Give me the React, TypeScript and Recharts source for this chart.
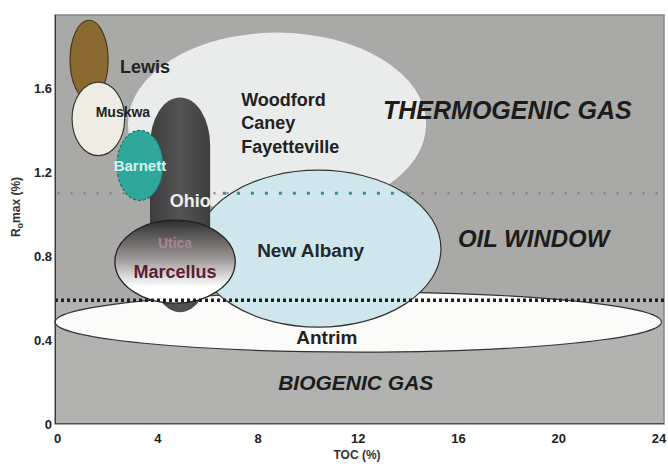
import { ComposedChart, XAxis, YAxis, ReferenceArea, Scatter } from "recharts";

const xTicks = [0, 4, 8, 12, 16, 20, 24];
const yTicks = [0, 0.4, 0.8, 1.2, 1.6];

// shale fields: centre and half-axes in TOC (%) / Ro (%) units, bottom to top
const shales = [
  { name: "Antrim", cx: 12, cy: 0.486, rx: 12.1, ry: 0.143 },
  { name: "Woodford", cx: 8.76, cy: 1.43, rx: 5.95, ry: 0.436 },
  { name: "New Albany", cx: 10.4, cy: 0.836, rx: 4.9, ry: 0.374 },
  { name: "Ohio", cx: 4.89, cy: 1.045, rx: 1.2, ry: 0.512 },
  { name: "Lewis", cx: 1.26, cy: 1.735, rx: 0.76, ry: 0.19 },
  { name: "Muskwa", cx: 1.63, cy: 1.455, rx: 1.05, ry: 0.175 },
  { name: "Barnett", cx: 3.29, cy: 1.233, rx: 0.92, ry: 0.167 },
  { name: "Marcellus", cx: 4.69, cy: 0.774, rx: 2.4, ry: 0.198 },
];

// window boundaries (Ro %)
const gasWindowTop = 1.1;
const oilWindowBase = 0.59;
const tealSegment = [6.6, 14.2];

const labels = [
  { text: "THERMOGENIC GAS", x: 17.95, y: 1.495 },
  { text: "OIL WINDOW", x: 19.0, y: 0.886 },
  { text: "BIOGENIC GAS", x: 11.9, y: 0.2 },
  { text: "Woodford", x: 7.33, y: 1.543 },
  { text: "Caney", x: 7.33, y: 1.433 },
  { text: "Fayetteville", x: 7.33, y: 1.319 },
  { text: "Lewis", x: 3.49, y: 1.7 },
  { text: "Muskwa", x: 2.61, y: 1.486 },
  { text: "Barnett", x: 3.29, y: 1.233 },
  { text: "Ohio", x: 5.3, y: 1.062 },
  { text: "Utica", x: 4.69, y: 0.862 },
  { text: "Marcellus", x: 4.69, y: 0.724 },
  { text: "New Albany", x: 10.1, y: 0.829 },
  { text: "Antrim", x: 10.75, y: 0.414 },
];

const shaleStyle: Record<string, any> = {
  Antrim: { fill: "#fbfbfa", stroke: "#333", strokeWidth: 1.2 },
  Woodford: { fill: "#e9ecea", stroke: "none" },
  "New Albany": { fill: "#cfe7ec", stroke: "#333", strokeWidth: 1.2 },
  Ohio: { fill: "url(#ohioGrad)", stroke: "none" },
  Lewis: { fill: "#8a6a30", stroke: "#4a3a1c", strokeWidth: 1.2 },
  Muskwa: { fill: "#efece4", stroke: "#3a3a30", strokeWidth: 1.2 },
  Barnett: { fill: "#2fa79b", stroke: "#1f6e68", strokeWidth: 1.2, strokeDasharray: "3 2" },
  Marcellus: { fill: "url(#marcGrad)", stroke: "#222", strokeWidth: 1.3 },
};

const labelStyle: Record<string, any> = {
  "THERMOGENIC GAS": { size: 25, italic: true, anchor: "middle", fill: "#1c1c1c" },
  "OIL WINDOW": { size: 24, italic: true, anchor: "middle", fill: "#1c1c1c" },
  "BIOGENIC GAS": { size: 21, italic: true, anchor: "middle", fill: "#1c1c1c" },
  Woodford: { size: 18, anchor: "start", fill: "#222" },
  Caney: { size: 18, anchor: "start", fill: "#222" },
  Fayetteville: { size: 18, anchor: "start", fill: "#222" },
  Lewis: { size: 18, anchor: "middle", fill: "#222" },
  Muskwa: { size: 14, anchor: "middle", fill: "#222" },
  Barnett: { size: 15, anchor: "middle", fill: "#d9f3f0" },
  Ohio: { size: 18, anchor: "middle", fill: "#eeeeee" },
  Utica: { size: 14, anchor: "middle", fill: "#a98592" },
  Marcellus: { size: 18, anchor: "middle", fill: "#5a1f36" },
  "New Albany": { size: 19, anchor: "middle", fill: "#22282c" },
  Antrim: { size: 19, anchor: "middle", fill: "#222" },
};

const font = "'Liberation Sans', Arial, sans-serif";

const ShaleShape = (name: string) => (p: any) => {
  const s = shaleStyle[name];
  if (name === "Ohio") {
    return (
      <rect x={p.x} y={p.y} width={p.width} height={p.height}
        rx={p.width / 2} ry={48} {...s} />
    );
  }
  return (
    <ellipse cx={p.x + p.width / 2} cy={p.y + p.height / 2}
      rx={p.width / 2} ry={p.height / 2} {...s} />
  );
};

const DotLine = (stroke: string, w: number, dash: string) => (p: any) => (
  <line x1={p.x} x2={p.x + p.width} y1={p.y + p.height / 2} y2={p.y + p.height / 2}
    stroke={stroke} strokeWidth={w} strokeDasharray={dash} />
);

const LabelShape = (p: any) => {
  const s = labelStyle[p.payload.text];
  return (
    <text x={p.cx} y={p.cy} textAnchor={s.anchor} dominantBaseline="central"
      fontSize={s.size} fontWeight="bold" fontStyle={s.italic ? "italic" : "normal"}
      fontFamily={font} fill={s.fill}>
      {p.payload.text}
    </text>
  );
};

const YLabel = () => (
  <text transform="translate(20,207) rotate(-90)" textAnchor="middle"
    fontSize={12} fontWeight="bold" fontFamily={font} fill="#333">
    R<tspan fontSize={9} dy={3}>o</tspan><tspan dy={-3}>max (%)</tspan>
  </text>
);

const XLabel = () => (
  <text x={357} y={459} textAnchor="middle"
    fontSize={12} fontWeight="bold" fontFamily={font} fill="#333">
    TOC (%)
  </text>
);

const tickStyle = { fill: "#222", fontSize: 13, fontWeight: "bold", fontFamily: font };

export default function App() {
  return (
    <div style={{ position: "absolute", left: 0, top: 0, background: "#fff" }}>
      <ComposedChart width={668} height={466} data={labels}
        margin={{ top: 15, right: 4, bottom: 12, left: 15 }}>
        <defs>
          <linearGradient id="marcGrad" x1="0" y1="0" x2="0" y2="1">
            <stop offset="0%" stopColor="#2e2e2e" />
            <stop offset="45%" stopColor="#9a9393" />
            <stop offset="80%" stopColor="#ffffff" />
          </linearGradient>
          <linearGradient id="ohioGrad" x1="0" y1="0" x2="1" y2="0">
            <stop offset="0%" stopColor="#3e3d3d" />
            <stop offset="50%" stopColor="#555353" />
            <stop offset="100%" stopColor="#3f3e3e" />
          </linearGradient>
        </defs>
        <XAxis dataKey="x" type="number" domain={[-0.1, 24.2]} ticks={xTicks}
          allowDataOverflow height={30} tickLine={false} axisLine={false}
          tickSize={0} tick={tickStyle} tickMargin={10} label={<XLabel />} />
        <YAxis dataKey="y" type="number" domain={[0, 1.95]} ticks={yTicks}
          allowDataOverflow width={40} tickLine={false} axisLine={false}
          tickSize={0} tick={tickStyle} tickMargin={3}
          tickFormatter={(v: number) => (v === 0 ? "0" : v.toFixed(1))}
          label={<YLabel />} />
        {/* plot background: thermogenic/oil upper field, biogenic lower field */}
        <ReferenceArea x1={-0.1} x2={24.2} y1={oilWindowBase} y2={1.95}
          fill="#a9a9a8" fillOpacity={1} stroke="none" ifOverflow="visible" />
        <ReferenceArea x1={-0.1} x2={24.2} y1={0} y2={oilWindowBase}
          fill="#b2b3b1" fillOpacity={1} stroke="none" ifOverflow="visible" />
        <ReferenceArea x1={-0.1} x2={24.2} y1={0} y2={1.95}
          fill="none" stroke="#858585" strokeWidth={1.5} ifOverflow="visible" />
        <ReferenceArea x1={-0.1} x2={24.2} y1={0} y2={0.004}
          fill="#3a3a3a" fillOpacity={1} stroke="none" ifOverflow="visible" />
        {shales.slice(0, 2).map((d) => (
          <ReferenceArea key={d.name} x1={d.cx - d.rx} x2={d.cx + d.rx}
            y1={d.cy - d.ry} y2={d.cy + d.ry} ifOverflow="visible" shape={ShaleShape(d.name)} />
        ))}
        <ReferenceArea x1={0} x2={24} y1={gasWindowTop - 0.003} y2={gasWindowTop + 0.003}
          ifOverflow="visible" shape={DotLine("#7c7c7c", 2, "2 11")} />
        {shales.slice(2, 3).map((d) => (
          <ReferenceArea key={d.name} x1={d.cx - d.rx} x2={d.cx + d.rx}
            y1={d.cy - d.ry} y2={d.cy + d.ry} ifOverflow="visible" shape={ShaleShape(d.name)} />
        ))}
        <ReferenceArea x1={tealSegment[0]} x2={tealSegment[1]}
          y1={gasWindowTop - 0.003} y2={gasWindowTop + 0.003}
          ifOverflow="visible" shape={DotLine("#3a8f8c", 3, "3 11")} />
        {shales.slice(3).map((d) => (
          <ReferenceArea key={d.name} x1={d.cx - d.rx} x2={d.cx + d.rx}
            y1={d.cy - d.ry} y2={d.cy + d.ry} ifOverflow="visible" shape={ShaleShape(d.name)} />
        ))}
        <ReferenceArea x1={-0.1} x2={24.2} y1={oilWindowBase - 0.003} y2={oilWindowBase + 0.003}
          ifOverflow="visible" shape={DotLine("#1e1e1e", 3.5, "3 3")} />
        <ReferenceArea x1={-0.1} x2={-0.06} y1={0} y2={1.95}
          fill="#3a3a3a" fillOpacity={1} stroke="none" ifOverflow="visible" />
        <Scatter dataKey="y" isAnimationActive={false} shape={LabelShape} />
      </ComposedChart>
    </div>
  );
}
